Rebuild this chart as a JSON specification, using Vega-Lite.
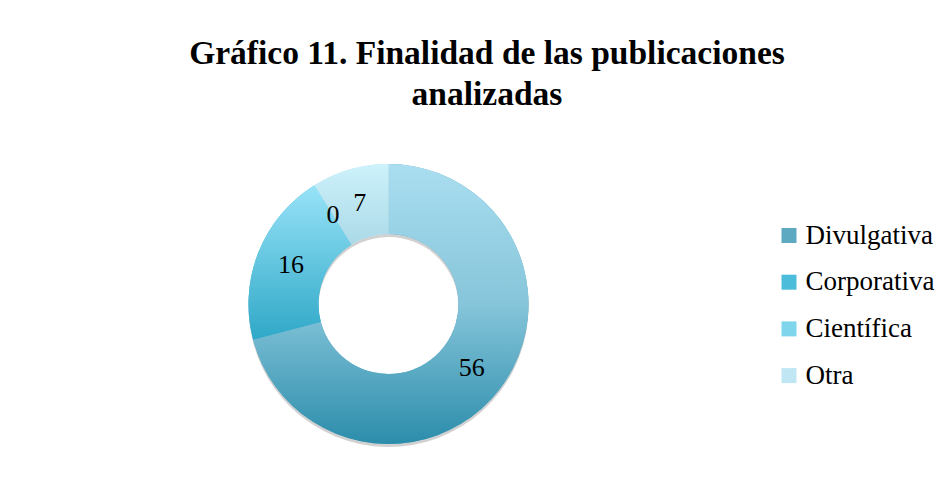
{
  "$schema": "https://vega.github.io/schema/vega-lite/v6.json",
  "autosize": {"type": "none"},
  "width": 280,
  "height": 280,
  "padding": {"left": 248.5, "top": 164, "right": 422.5, "bottom": 45},
  "background": "white",
  "config": {"view": {"stroke": null}},
  "title": {
    "text": ["Gráfico 11. Finalidad de las publicaciones", "analizadas"],
    "font": "Liberation Serif",
    "fontSize": 33.5,
    "fontWeight": "bold",
    "color": "#000000",
    "anchor": "middle",
    "frame": "group",
    "dx": 98.5,
    "lineHeight": 41,
    "offset": 52
  },
  "data": {
    "values": [
      {"categoria": "Divulgativa", "valor": 56, "orden": 1},
      {"categoria": "Corporativa", "valor": 16, "orden": 2},
      {"categoria": "Científica", "valor": 0, "orden": 3},
      {"categoria": "Otra", "valor": 7, "orden": 4}
    ]
  },
  "layer": [
    {
      "mark": {"type": "arc", "radius": 140, "radius2": 70, "color": "#000000", "opacity": 0.18, "yOffset": 3},
      "encoding": {
        "theta": {"field": "valor", "type": "quantitative", "stack": true},
        "order": {"field": "orden", "type": "quantitative"},
        "detail": {"field": "categoria"}
      }
    },
    {
      "mark": {"type": "arc", "radius": 140, "radius2": 70},
      "encoding": {
        "theta": {"field": "valor", "type": "quantitative", "stack": true},
        "order": {"field": "orden", "type": "quantitative"},
        "color": {
          "field": "categoria",
          "type": "nominal",
          "sort": ["Divulgativa", "Corporativa", "Científica", "Otra"],
          "scale": {
            "domain": ["Divulgativa", "Corporativa", "Científica", "Otra"],
            "range": ["#5ea9c2", "#4cbcdb", "#7fd6ec", "#bfe6f2"]
          },
          "legend": {
            "title": null,
            "orient": "none",
            "legendX": 527,
            "legendY": 58,
            "padding": 0,
            "symbolType": "square",
            "symbolSize": 225,
            "symbolStrokeWidth": 0,
            "labelFont": "Liberation Serif",
            "labelFontSize": 27,
            "labelColor": "#000000",
            "labelOffset": 3,
            "rowPadding": 18.7
          }
        }
      }
    },
    {
      "transform": [
        {"stack": "valor", "sort": [{"field": "orden", "order": "ascending"}], "groupby": [], "as": ["t0", "t1"]}
      ],
      "layer": [
        {
          "transform": [{"filter": "datum.categoria === 'Divulgativa'"}],
          "mark": {"type": "arc", "radius": 140, "radius2": 70, "color": {"gradient": "linear", "x1": 0, "y1": 0, "x2": 0, "y2": 1, "stops": [{"offset": 0, "color": "#aadef0"}, {"offset": 0.5, "color": "#86c5da"}, {"offset": 1, "color": "#2b8dab"}]}},
          "encoding": {
            "theta": {"field": "t0", "type": "quantitative"},
            "theta2": {"field": "t1"}
          }
        },
        {
          "transform": [{"filter": "datum.categoria === 'Corporativa'"}],
          "mark": {"type": "arc", "radius": 140, "radius2": 70, "color": {"gradient": "linear", "x1": 0, "y1": 0, "x2": 0, "y2": 1, "stops": [{"offset": 0, "color": "#98e3f8"}, {"offset": 1, "color": "#2fa8c7"}]}},
          "encoding": {
            "theta": {"field": "t0", "type": "quantitative"},
            "theta2": {"field": "t1"}
          }
        },
        {
          "transform": [{"filter": "datum.categoria === 'Otra'"}],
          "mark": {"type": "arc", "radius": 140, "radius2": 70, "color": {"gradient": "linear", "x1": 0, "y1": 0, "x2": 0, "y2": 1, "stops": [{"offset": 0, "color": "#cdf2fb"}, {"offset": 1, "color": "#abd9e7"}]}},
          "encoding": {
            "theta": {"field": "t0", "type": "quantitative"},
            "theta2": {"field": "t1"}
          }
        }
      ]
    },
    {
      "mark": {"type": "text", "radius": 105, "font": "Liberation Serif", "fontSize": 26, "color": "#000000", "baseline": "middle", "align": "center"},
      "encoding": {
        "theta": {"field": "valor", "type": "quantitative", "stack": true},
        "order": {"field": "orden", "type": "quantitative"},
        "detail": {"field": "categoria"},
        "text": {"field": "valor", "type": "quantitative"}
      }
    }
  ]
}
